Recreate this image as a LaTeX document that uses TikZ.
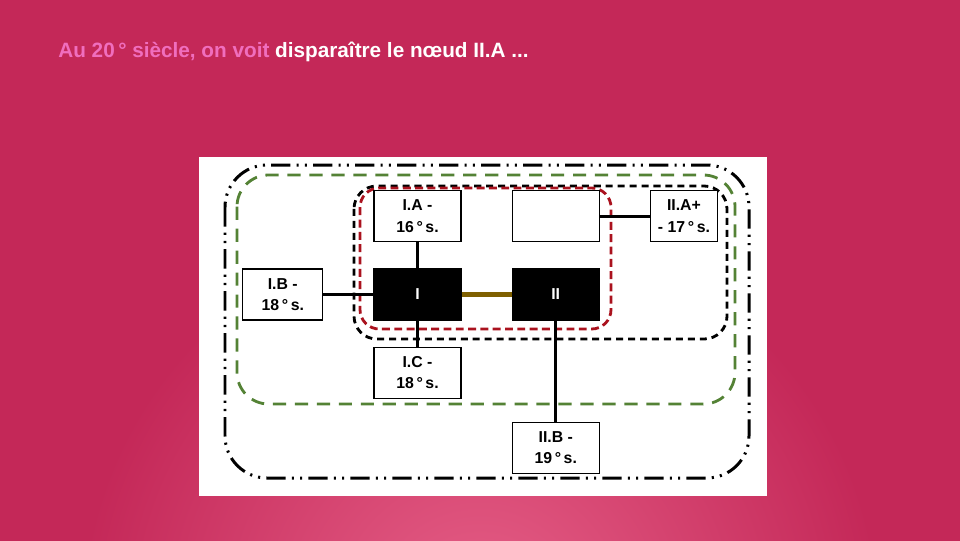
\documentclass[tikz,border=0pt]{standalone}
\usepackage{fontspec}
\setmainfont{Liberation Sans}
\usepackage{xcolor}
\usetikzlibrary{positioning}

\definecolor{bgmain}{RGB}{196,40,88}
\definecolor{bglight}{RGB}{230,96,136}
\definecolor{titlepink}{RGB}{240,110,190}
\definecolor{darkred}{RGB}{170,18,30}
\definecolor{ringgreen}{RGB}{84,130,53}
\definecolor{olivelink}{RGB}{127,96,0}

\begin{document}
\begin{tikzpicture}[
    x=0.2mm, y=-0.2mm,
    node distance=5.2mm and 10mm,
    box/.style={rectangle, draw, line width=0.7pt, fill=white, minimum width=17.4mm, minimum height=10.2mm, inner sep=0pt, align=center, font=\bfseries\fontsize{9}{12.3}\selectfont},
    blackbox/.style={box, fill=black, text=white},
    link/.style={line width=1.7pt},
    redring/.style={draw=darkred, line width=1.6pt, dash pattern=on 4.5pt off 2.5pt, rounded corners=11pt},
    blackring/.style={draw=black, line width=1.6pt, dash pattern=on 4pt off 2.8pt, rounded corners=13pt},
    greenring/.style={draw=ringgreen, line width=1.6pt, dash pattern=on 7.5pt off 5pt, rounded corners=18pt},
    outerring/.style={draw=black, line width=1.7pt, dash pattern=on 11pt off 3.5pt on 1.2pt off 3.5pt on 1.2pt off 3.5pt, rounded corners=24pt}
]
\useasboundingbox (0,0) rectangle (960,540);

% Background
\begin{scope}
\clip (-10,-10) rectangle (970,550);
\fill[bgmain] (-10,-10) rectangle (970,550);
\shade[inner color=bglight, outer color=bgmain] (80,220) rectangle (880,1020);
\end{scope}

% Title
\node[anchor=base west, inner sep=0pt, text=white, font=\bfseries\fontsize{11.8}{13}\selectfont] (title) at (58,57)
  {\textcolor{titlepink}{Au 20\,° siècle, on voit} disparaître le nœud II.A ...};

% Panel
\fill[white] (199,157) rectangle (767,496);

% Rings
\draw[outerring] (225,165) rectangle (749,478);
\draw[greenring] (237,175) rectangle (735,404);
\draw[blackring] (354,186) rectangle (727,339);
\draw[redring] (360,188) rectangle (611,329);

% Nodes
\node[blackbox] (I) at (417.5,294.5) {I};
\node[blackbox, right=of I] (II) {II};
\node[box, above=of I] (IA) {I.A -\\16\,°\,s.};
\node[box, above=of II] (empty) {};
\node[box, right=of empty, minimum width=13.4mm] (IIAplus) {II.A+\\- 17\,°\,s.};
\node[box, left=of I, minimum width=16mm] (IB) {I.B -\\18\,°\,s.};
\node[box, below=of I] (IC) {I.C -\\18\,°\,s.};
\node[box, below=20.2mm of II] (IIB) {II.B -\\19\,°\,s.};

% Links
\draw[link] (IA) -- (I);
\draw[link] (IB) -- (I);
\draw[link] (I) -- (IC);
\draw[link, draw=olivelink, line width=2.6pt] (I) -- (II);
\draw[link] (empty) -- (IIAplus);
\draw[link] (II) -- (IIB);

\end{tikzpicture}
\end{document}
